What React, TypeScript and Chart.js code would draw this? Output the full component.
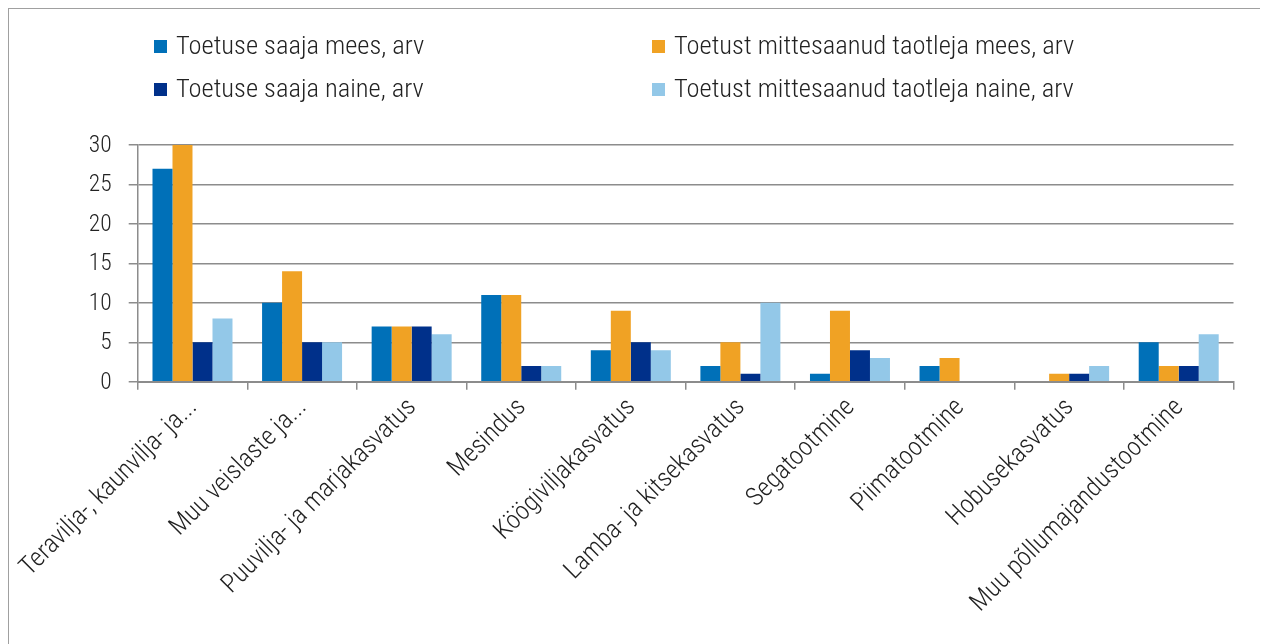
import React, { useEffect, useRef } from "react";
import { Chart, registerables } from "chart.js";

Chart.register(...registerables);

const categories = [
  "Teravilja-, kaunvilja- ja...",
  "Muu veislaste ja...",
  "Puuvilja- ja marjakasvatus",
  "Mesindus",
  "Köögiviljakasvatus",
  "Lamba- ja kitsekasvatus",
  "Segatootmine",
  "Piimatootmine",
  "Hobusekasvatus",
  "Muu põllumajandustootmine",
];

const seriesNames = [
  "Toetuse saaja mees, arv",
  "Toetust mittesaanud taotleja mees, arv",
  "Toetuse saaja naine, arv",
  "Toetust mittesaanud taotleja naine, arv",
];

const saajaMees = [27, 10, 7, 11, 4, 2, 1, 2, 0, 5];
const mittesaanudMees = [30, 14, 7, 11, 9, 5, 9, 3, 1, 2];
const saajaNaine = [5, 5, 7, 2, 5, 1, 4, 0, 1, 2];
const mittesaanudNaine = [8, 5, 6, 2, 4, 10, 3, 0, 2, 6];

const seriesColors = ["#0070B8", "#F0A224", "#00308A", "#93C8E8"];

const yTicks = [0, 5, 10, 15, 20, 25, 30];

const FONT = "'Roboto Condensed Light', 'Roboto Condensed', Roboto";
const TEXT = "#222222";
const GRID = "#8c8c8c";

export default function App() {
  const ref = useRef<HTMLCanvasElement | null>(null);
  const values = [saajaMees, mittesaanudMees, saajaNaine, mittesaanudNaine];

  useEffect(() => {
    if (!ref.current) return;
    const chart = new Chart(ref.current, {
      type: "bar",
      data: {
        labels: categories,
        datasets: seriesNames.map((name, i) => ({
          label: name,
          data: values[i],
          backgroundColor: seriesColors[i],
          borderWidth: 0,
          barPercentage: 1,
          categoryPercentage: 0.73,
        })),
      },
      options: {
        animation: false,
        responsive: false,
        maintainAspectRatio: false,
        devicePixelRatio: 1,
        layout: { padding: { top: 136, left: 0, right: 28.5, bottom: 0 } },
        plugins: {
          legend: { display: false },
          tooltip: { enabled: false },
        },
        scales: {
          x: {
            afterFit: (s: any) => {
              s.height = 267.3;
              s.paddingLeft = 0;
              s.paddingRight = 0;
            },
            grid: {
              offset: true,
              drawOnChartArea: false,
              drawTicks: true,
              tickLength: 8,
              color: GRID,
              lineWidth: 1.5,
            },
            border: { display: true, color: GRID, width: 2 },
            ticks: {
              autoSkip: false,
              minRotation: 45,
              maxRotation: 45,
              padding: 2,
              color: TEXT,
              font: { family: FONT, size: 26, weight: "300 condensed" as any },
            },
          },
          y: {
            min: 0,
            max: 30,
            afterFit: (s: any) => {
              s.width = 128.7;
            },
            afterBuildTicks: (s: any) => {
              s.ticks = yTicks.map((v) => ({ value: v }));
            },
            grid: {
              color: GRID,
              lineWidth: 1.5,
              drawTicks: true,
              tickLength: 9,
            },
            border: { display: true, color: GRID, width: 1.5 },
            ticks: {
              padding: 17,
              color: TEXT,
              font: { family: FONT, size: 23.5, weight: "300 condensed" as any },
            },
          },
        },
      },
    });
    return () => chart.destroy();
  }, []);

  const legendPos = [
    { left: 145, top: 23 },
    { left: 643, top: 23 },
    { left: 145, top: 66 },
    { left: 643, top: 66 },
  ];

  return (
    <div
      style={{
        position: "relative",
        width: 1255,
        height: 650,
        border: "1px solid #a0a0a0",
        boxSizing: "border-box",
        background: "#fff",
      }}
    >
      <canvas
        ref={ref}
        width={1253}
        height={640}
        style={{ position: "absolute", left: 0, top: 0, width: 1253, height: 640 }}
      />
      {seriesNames.map((name, i) => (
        <div
          key={name}
          style={{
            position: "absolute",
            left: legendPos[i].left,
            top: legendPos[i].top,
            display: "flex",
            alignItems: "center",
            fontFamily: `${FONT}, sans-serif`,
            fontWeight: 300,
            fontStretch: "condensed",
            fontSize: 26.5,
            lineHeight: "26px",
            color: TEXT,
            whiteSpace: "nowrap",
          }}
        >
          <span
            style={{
              display: "inline-block",
              width: 13,
              height: 13,
              background: seriesColors[i],
              marginRight: 9,
              marginTop: 2,
            }}
          />
          <span>{name}</span>
        </div>
      ))}
    </div>
  );
}
